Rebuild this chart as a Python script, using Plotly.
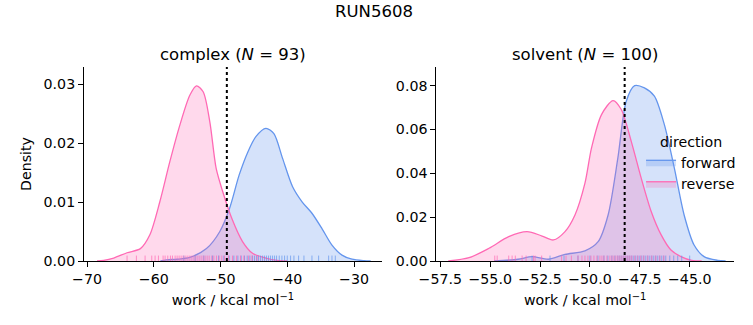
import plotly.graph_objects as go

# ---------------- data ----------------
# complex leg, KDE curves
complex_fwd_x = [-59.0, -58.1, -56.5, -54.6, -52.1, -50.1, -48.65, -47.2, -45.9, -44.7, -43.2,
                 -42.0, -40.7, -39.2, -37.75, -36.3, -34.8, -33.3, -31.8, -30.3, -28.5, -27.5]
complex_fwd_y = [0.0, 0.0002, 0.0003, 0.0006, 0.0021, 0.0050, 0.0089, 0.0146, 0.0185, 0.0211, 0.0225,
                 0.0216, 0.0174, 0.0126, 0.0100, 0.0081, 0.0055, 0.0027, 0.0010, 0.0003, 0.00005, 0.0]
complex_rev_x = [-68.5, -67.5, -66.0, -64.0, -62.0, -60.6, -59.1, -57.6, -56.1, -54.6, -53.6, -52.6,
                 -51.6, -50.65, -49.65, -48.3, -46.7, -45.2, -43.2, -41.5, -40.0]
complex_rev_y = [0.0, 0.0001, 0.0005, 0.0014, 0.0021, 0.0044, 0.0100, 0.0168, 0.0230, 0.0281, 0.0297, 0.0287,
                 0.0236, 0.0157, 0.0117, 0.0072, 0.0033, 0.0013, 0.0005, 0.0001, 0.0]

# solvent leg, KDE curves
solvent_fwd_x = [-54.8, -53.6, -52.9, -52.08, -51.25, -50.25, -49.59, -49.09, -48.6, -48.18, -47.76,
                 -47.27, -46.77, -46.27, -45.77, -45.28, -44.78, -44.28, -43.6, -43.2]
solvent_fwd_y = [0.0, 0.0008, 0.0020, 0.0008, 0.0030, 0.0046, 0.0088, 0.0210, 0.0470, 0.0729, 0.0800,
                 0.0790, 0.0752, 0.0622, 0.0424, 0.0210, 0.0073, 0.0020, 0.0003, 0.0]
solvent_rev_x = [-57.1, -56.06, -55.06, -54.07, -53.15, -52.4, -51.83, -51.25, -50.75, -50.25, -49.92,
                 -49.42, -48.84, -48.43, -47.93, -47.43, -46.93, -46.43, -45.94, -45.44, -44.9, -44.4]
solvent_rev_y = [0.0, 0.0015, 0.0058, 0.0111, 0.0134, 0.0114, 0.0096, 0.0134, 0.0210, 0.0355, 0.0516,
                 0.0668, 0.0732, 0.0691, 0.0546, 0.0378, 0.0226, 0.0119, 0.0050, 0.0020, 0.0003, 0.0]

# rug samples (work values)
complex_fwd_rug = [-55.5, -53.8, -52.5, -51.2, -50.3, -49.5, -48.7, -48.0, -47.4, -46.9, -46.4, -46.0,
                   -45.6, -45.2, -44.9, -44.6, -44.3, -44.0, -43.7, -43.4, -43.1, -42.8, -42.5, -42.2,
                   -41.9, -41.6, -41.2, -40.8, -40.4, -40.0, -39.5, -39.0, -38.3, -37.5, -36.3, -35.3,
                   -33.8, -33.3, -32.8]
complex_rev_rug = [-64.0, -62.6, -61.3, -60.3, -59.8, -59.3, -58.6, -58.3, -57.9, -57.5, -57.2, -56.8,
                   -56.5, -56.2, -55.9, -55.6, -55.3, -55.0, -54.7, -54.4, -54.1, -53.8, -53.5, -53.2,
                   -52.9, -52.6, -52.3, -52.0, -51.7, -51.3, -51.0, -50.6, -50.2, -49.8, -49.4, -48.8,
                   -48.2, -47.6, -47.0, -46.5, -45.8, -45.3, -44.5]
solvent_fwd_rug = [-52.9, -52.0, -51.3, -50.6, -50.0, -49.6, -49.3, -49.1, -48.9, -48.75, -48.6, -48.5,
                   -48.4, -48.3, -48.2, -48.1, -48.0, -47.9, -47.8, -47.7, -47.6, -47.5, -47.4, -47.3,
                   -47.2, -47.1, -47.0, -46.9, -46.8, -46.7, -46.6, -46.5, -46.4, -46.3, -46.2, -46.0,
                   -45.8, -45.6, -45.4, -45.0]
solvent_rev_rug = [-54.77, -54.65, -54.07, -53.9, -53.74, -53.4, -53.2, -52.83, -52.75, -52.42, -51.42,
                   -51.2, -50.93, -50.6, -50.4, -50.25, -50.1, -49.95, -49.8, -49.65, -49.5, -49.4,
                   -49.3, -49.15, -49.0, -48.9, -48.8, -48.7, -48.6, -48.5, -48.4, -48.3, -48.2, -48.1,
                   -48.0, -47.9, -47.75, -47.6, -47.45, -47.3, -47.1, -46.9, -46.7, -46.5, -46.3]

# free-energy estimate markers (dotted vertical lines)
complex_dg = -49.05
solvent_dg = -48.26

# ticks
complex_xticks = [-70, -60, -50, -40, -30]
complex_xticklabels = ["\u221270", "\u221260", "\u221250", "\u221240", "\u221230"]
complex_yticks = [0.0, 0.01, 0.02, 0.03]
complex_yticklabels = ["0.00", "0.01", "0.02", "0.03"]
solvent_xticks = [-57.5, -55.0, -52.5, -50.0, -47.5, -45.0]
solvent_xticklabels = ["\u221257.5", "\u221255.0", "\u221252.5", "\u221250.0", "\u221247.5", "\u221245.0"]
solvent_yticks = [0.0, 0.02, 0.04, 0.06, 0.08]
solvent_yticklabels = ["0.00", "0.02", "0.04", "0.06", "0.08"]

# ---------------- styling ----------------
FWD = "#6495ED"
REV = "#FF69B4"
FWD_FILL = "rgba(100,149,237,0.27)"
REV_FILL = "rgba(255,105,180,0.25)"
FONT = "DejaVu Sans"
TICK_SIZE = 14.2
TITLE_SIZE = 16.5

fig = go.Figure()

panels = [
    dict(xa="x", ya="y", fwd=(complex_fwd_x, complex_fwd_y), rev=(complex_rev_x, complex_rev_y),
         rf=complex_fwd_rug, rr=complex_rev_rug, dg=complex_dg, legend=True),
    dict(xa="x2", ya="y2", fwd=(solvent_fwd_x, solvent_fwd_y), rev=(solvent_rev_x, solvent_rev_y),
         rf=solvent_fwd_rug, rr=solvent_rev_rug, dg=solvent_dg, legend=False),
]

shapes = []
for p in panels:
    for name, (xs, ys), col, fill in [("forward", p["fwd"], FWD, FWD_FILL),
                                       ("reverse", p["rev"], REV, REV_FILL)]:
        fig.add_trace(go.Scatter(
            x=xs, y=ys, xaxis=p["xa"], yaxis=p["ya"], mode="lines",
            line=dict(color=col, width=1.3, shape="spline", smoothing=0.8),
            fill="tozeroy", fillcolor=fill, name=name, legendgroup=name,
            showlegend=p["legend"], hoverinfo="skip"))
    for vals, col in [(p["rf"], "rgba(100,149,237,0.7)"), (p["rr"], "rgba(255,105,180,0.7)")]:
        for v in vals:
            shapes.append(dict(type="line", xref=p["xa"], yref=p["ya"] + " domain",
                               x0=v, x1=v, y0=0, y1=0.028,
                               line=dict(color=col, width=1)))
    shapes.append(dict(type="line", xref=p["xa"], yref=p["ya"] + " domain",
                       x0=p["dg"], x1=p["dg"], y0=0, y1=1,
                       line=dict(color="black", width=2, dash="dot")))

axis_common = dict(showgrid=False, zeroline=False, showline=True, linecolor="black", linewidth=1,
                   ticks="outside", ticklen=5, tickwidth=1, tickcolor="black",
                   tickfont=dict(family=FONT, size=TICK_SIZE, color="black"), mirror=False)

xtitle = dict(text="work / kcal mol<sup>\u22121</sup>", font=dict(family=FONT, size=TICK_SIZE, color="black"),
              standoff=9)

fig.update_layout(
    width=753, height=325,
    margin=dict(l=84, r=14, t=67, b=64),
    paper_bgcolor="white", plot_bgcolor="white",
    font=dict(family=FONT, color="black"),
    shapes=shapes,
    xaxis=dict(domain=[0, 0.458], range=[-70.45, -25.85], anchor="y",
               tickvals=complex_xticks, ticktext=complex_xticklabels, title=xtitle, **axis_common),
    yaxis=dict(domain=[0, 1], range=[0, 0.0329], anchor="x",
               tickvals=complex_yticks, ticktext=complex_yticklabels,
               title=dict(text="Density", font=dict(family=FONT, size=TICK_SIZE, color="black"), standoff=8),
               **axis_common),
    xaxis2=dict(domain=[0.542, 1], range=[-57.7, -42.78], anchor="y2",
                tickvals=solvent_xticks, ticktext=solvent_xticklabels, title=xtitle, **axis_common),
    yaxis2=dict(domain=[0, 1], range=[0, 0.0885], anchor="x2",
                tickvals=solvent_yticks, ticktext=solvent_yticklabels, **axis_common),
    legend=dict(x=0.857, y=0.685, xanchor="left", yanchor="top", bgcolor="rgba(0,0,0,0)",
                title=dict(text="direction", side="top center",
                           font=dict(family=FONT, size=TICK_SIZE, color="black")),
                font=dict(family=FONT, size=TICK_SIZE, color="black"),
                tracegroupgap=0, itemwidth=30),
    annotations=[
        dict(text="RUN5608", xref="paper", yref="paper", x=0.4466, y=1.285,
             xanchor="center", yanchor="middle", showarrow=False,
             font=dict(family=FONT, size=TITLE_SIZE, color="black")),
        dict(text="complex (<i>N</i> = 93)", xref="paper", yref="paper", x=0.229, y=1.067,
             xanchor="center", yanchor="middle", showarrow=False,
             font=dict(family=FONT, size=TITLE_SIZE, color="black")),
        dict(text="solvent (<i>N</i> = 100)", xref="paper", yref="paper", x=0.771, y=1.067,
             xanchor="center", yanchor="middle", showarrow=False,
             font=dict(family=FONT, size=TITLE_SIZE, color="black")),
    ],
)

fig.write_html("out.html")
